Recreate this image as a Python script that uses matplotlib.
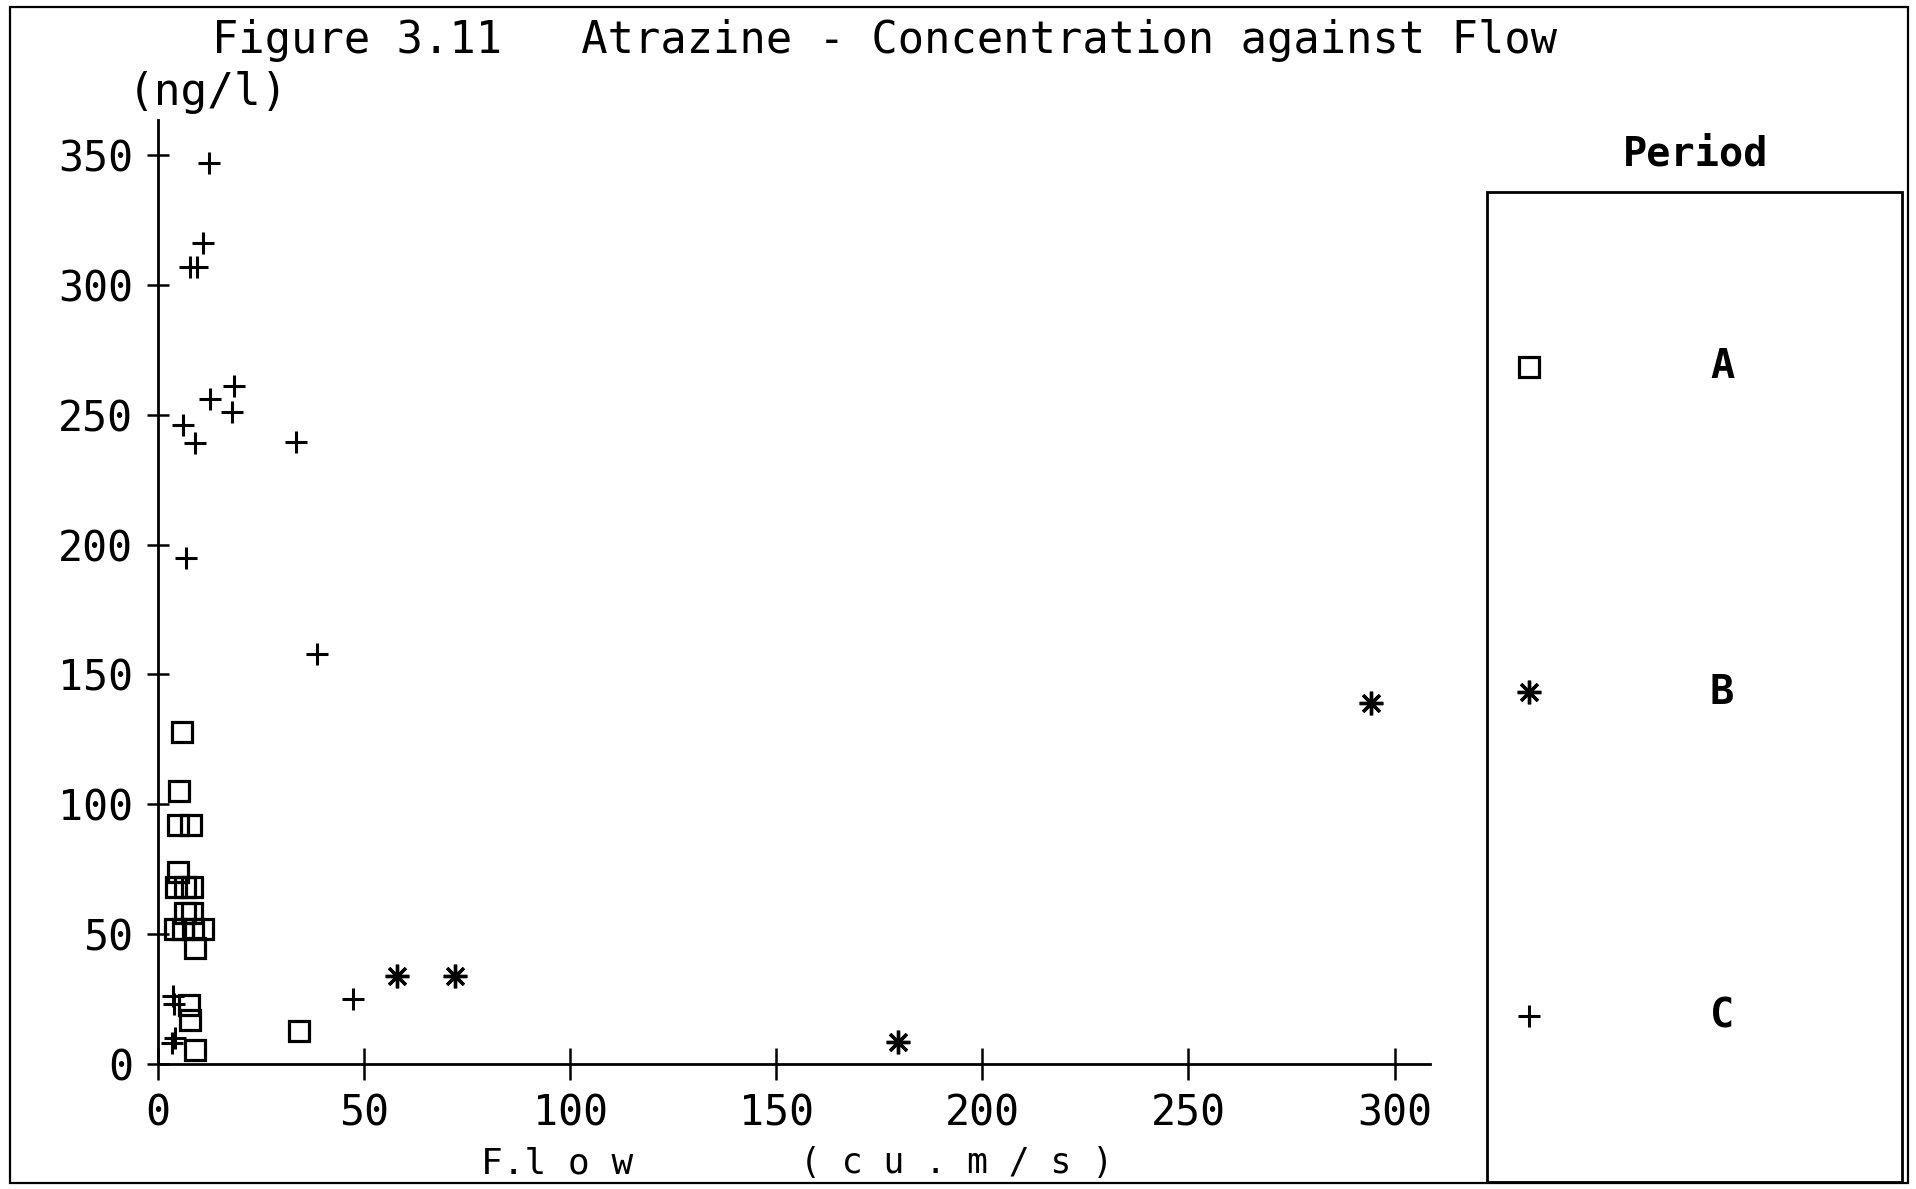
import matplotlib
matplotlib.use("Agg")
import matplotlib.pyplot as plt
from matplotlib.patches import Rectangle

# Atrazine concentration (ng/l) against flow (cu.m/s), by sampling period
period_a_flow = [5.9, 5.1, 4.9, 7.9, 4.9, 4.4, 6.5, 8.2, 6.5, 8.2, 4.1, 6.1, 8.6, 11.0, 9.0, 7.5, 7.8, 9.0, 34.3]
period_a_conc = [128, 105, 92, 92, 74, 68, 68, 68, 58, 58, 52, 52, 52, 52, 44.5, 22.7, 17, 5.4, 12.8]

period_b_flow = [57.9, 72.1, 179.6, 294.4]
period_b_conc = [34, 34, 8.4, 139]

period_c_flow = [12.4, 10.9, 7.8, 9.5, 12.6, 18.4, 18.0, 6.1, 9.0, 33.5, 6.8, 38.5, 47.4, 3.7, 4.0, 3.3, 4.2]
period_c_conc = [347, 316, 307, 307, 256, 261, 251, 246, 239, 239.5, 195, 158, 25, 26, 23, 8, 10]

x_ticks = [0, 50, 100, 150, 200, 250, 300]
y_ticks = [0, 50, 100, 150, 200, 250, 300, 350]
periods = ["A", "B", "C"]

W, H = 1916, 1189
fig = plt.figure(figsize=(W / 100, H / 100), dpi=100)
fig.patch.set_facecolor("white")

MONO = "DejaVu Sans Mono"

# outer frame
fig.add_artist(Rectangle((10 / W, 6 / H), 1898 / W, 1176 / H, transform=fig.transFigure,
                         fill=False, edgecolor="black", linewidth=1.6))

# main plotting area
x0, x1 = 158, 1430
y_bot, y_top = 1064, 120
ax = fig.add_axes([x0 / W, (H - y_bot) / H, (x1 - x0) / W, (y_bot - y_top) / H])
ax.set_xlim(0, 308.6)
ax.set_ylim(0, 363.5)
for s in ["top", "right"]:
    ax.spines[s].set_visible(False)
for s in ["left", "bottom"]:
    ax.spines[s].set_linewidth(2.0)
ax.set_facecolor("none")

ax.set_xticks(x_ticks)
ax.set_yticks(y_ticks)
ax.tick_params(axis="x", direction="inout", length=23, width=1.8, pad=9, labelsize=30)
ax.tick_params(axis="y", direction="inout", length=16, width=1.8, pad=10, labelsize=30)
for lab in ax.get_xticklabels() + ax.get_yticklabels():
    lab.set_fontfamily(MONO)

marker_a = dict(marker="s", markersize=14, markerfacecolor="none", markeredgecolor="black",
                markeredgewidth=2.3, linestyle="none", clip_on=False)
marker_b = dict(marker=(8, 2, 0), markersize=17, markeredgecolor="black",
                markeredgewidth=2.4, linestyle="none", clip_on=False)
marker_c = dict(marker="+", markersize=16, markeredgecolor="black",
                markeredgewidth=2.2, linestyle="none", clip_on=False)

ax.plot(period_a_flow, period_a_conc, **marker_a)
ax.plot(period_b_flow, period_b_conc, **marker_b)
ax.plot(period_c_flow, period_c_conc, **marker_c)

# titles and axis captions
fig.text(885 / W, 1 - 40 / H, "Figure 3.11   Atrazine - Concentration against Flow",
         ha="center", va="center", fontsize=31.5, family=MONO)
fig.text(128 / W, 1 - 92 / H, "(ng/l)", ha="left", va="center", fontsize=32, family=MONO)
fig.text(557 / W, 1 - 1163 / H, "F.l o w", ha="center", va="center", fontsize=26, family=MONO)
fig.text(957 / W, 1 - 1163 / H, "( c u . m / s )", ha="center", va="center", fontsize=25, family=MONO)

# legend panel
fig.add_artist(Rectangle((1487 / W, (H - 1182) / H), (1902 - 1487) / W, (1182 - 192) / H,
                         transform=fig.transFigure, fill=False, edgecolor="black", linewidth=2.0))
fig.text(1696 / W, 1 - 154 / H, "Period", ha="center", va="center", fontsize=29,
         family=MONO, fontweight="bold")

leg = fig.add_axes([1487 / W, (H - 1182) / H, (1902 - 1487) / W, (1182 - 192) / H])
leg.set_xlim(1487, 1902)
leg.set_ylim(1182, 192)
leg.axis("off")
leg_y = [367, 692, 1016]
for style, name, yy in zip([marker_a, marker_b, marker_c], periods, leg_y):
    leg.plot([1529], [yy], **style)
    leg.text(1722, yy, name, ha="center", va="center", fontsize=29, family=MONO, fontweight="bold")

fig.savefig("out.png", dpi=100)
